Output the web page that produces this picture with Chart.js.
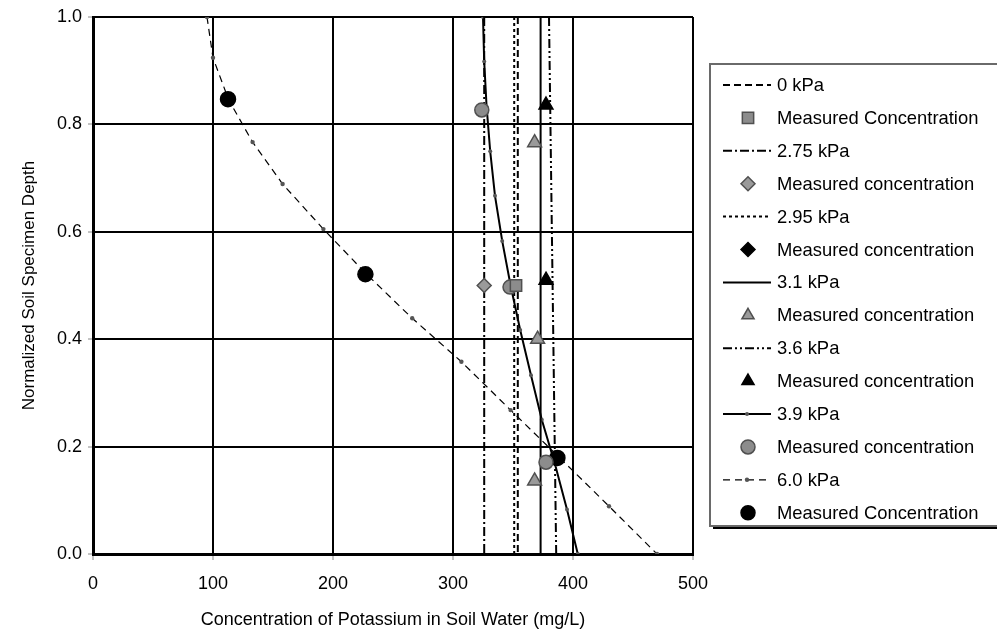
<!DOCTYPE html>
<html>
<head>
<meta charset="utf-8">
<script src="https://cdn.jsdelivr.net/npm/chart.js@4.4.0/dist/chart.umd.min.js"></script>
<style>
  html, body { margin: 0; padding: 0; background: #fff; }
  #wrap { width: 997px; height: 639px; }
</style>
</head>
<body>
<div id="wrap"><canvas id="chart" width="997" height="639"></canvas></div>
<script>
// axis ticks
const xTicks = [0, 100, 200, 300, 400, 500];
const yTicks = [0.0, 0.2, 0.4, 0.6, 0.8, 1.0];

// model curves (concentration in mg/L vs normalized depth)
const flatDepth = [1.0, 0.0];
const kpa0 = [354, 354];
const kpa275 = [326, 326];
const kpa295 = [351, 351];
const kpa31 = [373, 373];
const kpa36 = [380, 386];

const depth39 = [1.0, 0.917, 0.833, 0.75, 0.667, 0.583, 0.5, 0.417, 0.333, 0.25, 0.167, 0.083, 0.0];
const kpa39 = [325, 326, 328, 331, 335, 341, 348, 356, 365, 374, 385, 395, 404];

const depth60 = [1.0, 0.924, 0.846, 0.767, 0.689, 0.605, 0.521, 0.439, 0.358, 0.268, 0.179, 0.089, 0.0];
const kpa60 = [95, 100, 113, 133, 158, 192, 228, 266, 307, 348, 389, 430, 470];

// measured concentrations
const meas0X = [352.5];          const meas0Y = [0.50];
const meas275X = [326];          const meas275Y = [0.50];
const meas295X = [];             const meas295Y = [];
const meas31X = [368, 370.5, 368]; const meas31Y = [0.766, 0.40, 0.136];
const meas36X = [377.5, 377.5];  const meas36Y = [0.836, 0.51];
const meas39X = [324, 347.5, 377.5]; const meas39Y = [0.827, 0.497, 0.171];
const meas60X = [112.5, 227, 387]; const meas60Y = [0.847, 0.521, 0.179];

const lineLabels = ['0 kPa', '2.75 kPa', '2.95 kPa', '3.1 kPa', '3.6 kPa', '3.9 kPa', '6.0 kPa'];

const FONT = '"Liberation Sans", Arial, sans-serif';

function pts(xs, ys) {
  return xs.map((x, i) => ({ x: x, y: ys[i] }));
}

function lineSet(label, xs, ys, dash, extra) {
  return Object.assign({
    label: label,
    data: pts(xs, ys),
    showLine: true,
    borderColor: '#000',
    borderWidth: 2,
    borderDash: dash,
    pointRadius: 0,
    order: 1
  }, extra || {});
}

function markSet(label, xs, ys, style, fill, radius) {
  return {
    label: label,
    data: pts(xs, ys),
    showLine: false,
    pointStyle: style,
    pointRadius: radius,
    pointBackgroundColor: fill,
    pointBorderColor: fill === '#000' ? '#000' : '#505050',
    pointBorderWidth: 1.5,
    order: 0
  };
}

const datasets = [
  lineSet(lineLabels[0], kpa0, flatDepth, [7, 4]),
  markSet('Measured Concentration', meas0X, meas0Y, 'rect', '#8c8c8c', 8),
  lineSet(lineLabels[1], kpa275, flatDepth, [9, 3, 2, 3]),
  markSet('Measured concentration', meas275X, meas275Y, 'rectRot', '#9a9a9a', 7),
  lineSet(lineLabels[2], kpa295, flatDepth, [3, 3]),
  markSet('Measured concentration', meas295X, meas295Y, 'rectRot', '#000', 7),
  lineSet(lineLabels[3], kpa31, flatDepth, []),
  markSet('Measured concentration', meas31X, meas31Y, 'triangle', '#9a9a9a', 8),
  lineSet(lineLabels[4], kpa36, flatDepth, [9, 3, 2, 3, 2, 3]),
  markSet('Measured concentration', meas36X, meas36Y, 'triangle', '#000', 8),
  lineSet(lineLabels[5], kpa39, depth39, [], {
    pointRadius: 2, pointBackgroundColor: '#555', pointBorderWidth: 0
  }),
  markSet('Measured concentration', meas39X, meas39Y, 'circle', '#8c8c8c', 7),
  lineSet(lineLabels[6], kpa60, depth60, [7, 5], {
    borderWidth: 1.2, pointRadius: 2.2, pointBackgroundColor: '#555', pointBorderWidth: 0
  }),
  markSet('Measured Concentration', meas60X, meas60Y, 'circle', '#000', 7.5)
];

// legend drawn to the right of the plot, built from the datasets
const sideLegend = {
  id: 'sideLegend',
  afterDraw(chart) {
    const ctx = chart.ctx;
    const left = 710, top = 64, bottom = 526, right = 1000;
    ctx.save();
    ctx.fillStyle = '#000';
    ctx.fillRect(713, bottom, right - 713, 3);
    ctx.strokeStyle = '#6a6a6a';
    ctx.lineWidth = 2;
    ctx.beginPath();
    ctx.moveTo(right, top);
    ctx.lineTo(left, top);
    ctx.lineTo(left, bottom);
    ctx.lineTo(right, bottom);
    ctx.stroke();

    ctx.font = '18.4px ' + FONT;
    ctx.textBaseline = 'middle';
    ctx.fillStyle = '#000';
    chart.data.datasets.forEach((ds, i) => {
      const y = 85 + i * 32.9;
      const marker = {
        pointStyle: ds.pointStyle,
        radius: ds.pointStyle === 'rect' ? 8 : 7,
        borderWidth: ds.pointBorderWidth,
        rotation: 0
      };
      if (ds.showLine) {
        ctx.save();
        ctx.strokeStyle = '#000';
        ctx.lineWidth = ds.borderWidth;
        ctx.setLineDash(ds.borderDash);
        ctx.beginPath();
        ctx.moveTo(723, y);
        ctx.lineTo(771, y);
        ctx.stroke();
        ctx.restore();
        if (ds.pointRadius > 0) {
          ctx.fillStyle = ds.pointBackgroundColor;
          ctx.beginPath();
          ctx.arc(747, y, ds.pointRadius, 0, Math.PI * 2);
          ctx.fill();
        }
      } else {
        ctx.fillStyle = ds.pointBackgroundColor;
        ctx.strokeStyle = ds.pointBorderColor;
        ctx.lineWidth = ds.pointBorderWidth;
        Chart.helpers.drawPoint(ctx, marker, 748, y);
      }
      ctx.fillStyle = '#000';
      ctx.fillText(ds.label, 777, y + 1);
    });
    ctx.restore();
  }
};

new Chart(document.getElementById('chart'), {
  type: 'scatter',
  data: { datasets: datasets },
  options: {
    responsive: false,
    animation: false,
    layout: { padding: { left: 0, top: 17, right: 304, bottom: 0 } },
    plugins: {
      legend: { display: false },
      tooltip: { enabled: false }
    },
    scales: {
      x: {
        type: 'linear',
        min: xTicks[0],
        max: xTicks[xTicks.length - 1],
        afterFit: (s) => { s.height = 85; },
        afterBuildTicks: (s) => { s.ticks = xTicks.map(v => ({ value: v })); },
        ticks: { color: '#000', font: { family: FONT, size: 18 }, padding: 13 },
        grid: { color: '#000', lineWidth: 2, tickLength: 6, tickColor: '#888', tickWidth: 1 },
        border: { color: '#000', width: 3 },
        title: {
          display: true,
          text: 'Concentration of Potassium in Soil Water (mg/L)',
          color: '#000',
          font: { family: FONT, size: 18 },
          padding: { top: 0, bottom: 8 }
        }
      },
      y: {
        type: 'linear',
        min: yTicks[0],
        max: yTicks[yTicks.length - 1],
        afterFit: (s) => { s.width = 93; },
        afterBuildTicks: (s) => { s.ticks = yTicks.map(v => ({ value: v })); },
        ticks: {
          color: '#000',
          font: { family: FONT, size: 18 },
          padding: 6,
          callback: (v) => Number(v).toFixed(1)
        },
        grid: { color: '#000', lineWidth: 2, tickLength: 5, tickColor: '#888', tickWidth: 1 },
        border: { color: '#000', width: 3 },
        title: {
          display: true,
          text: 'Normalized Soil Specimen Depth',
          color: '#000',
          font: { family: FONT, size: 17 },
          padding: { top: 19, bottom: 0 }
        }
      }
    }
  },
  plugins: [sideLegend]
});
</script>
</body>
</html>
